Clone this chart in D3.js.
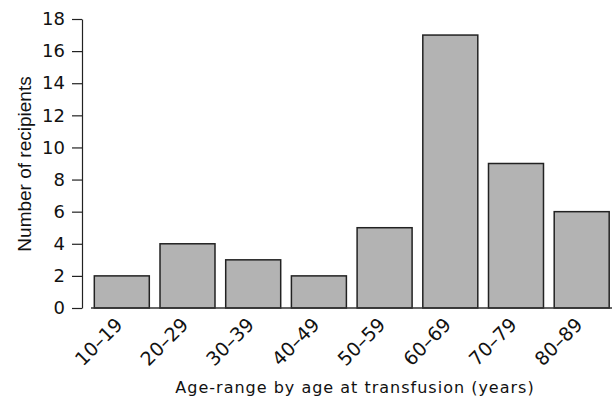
<!DOCTYPE html>
<html>
<head>
<meta charset="utf-8">
<script src="https://cdn.jsdelivr.net/npm/d3@7"></script>
<style>
  html, body { margin: 0; padding: 0; background: #fff; }
  svg { display: block; }
</style>
</head>
<body>
<svg id="chart" width="612" height="400"></svg>
<script>
const categories = ["10–19", "20–29", "30–39", "40–49", "50–59", "60–69", "70–79", "80–89"];
const recipients = [2, 4, 3, 2, 5, 17, 9, 6];
const yTicks = [0, 2, 4, 6, 8, 10, 12, 14, 16, 18];
const xTitle = "Age-range by age at transfusion (years)";
const yTitle = "Number of recipients";

const svg = d3.select("#chart");
const axisColor = "#222";

const x = d3.scaleBand()
  .domain(categories)
  .range([83.6, 619.9])
  .paddingInner(0.163)
  .paddingOuter(0.163);

const y = d3.scaleLinear().domain([0, 18]).range([308, 19]);

// bars
svg.append("g").selectAll("rect")
  .data(recipients)
  .join("rect")
  .attr("x", (d, i) => x(categories[i]))
  .attr("y", d => y(d))
  .attr("width", x.bandwidth())
  .attr("height", d => y(0) - y(d))
  .attr("fill", "#b3b3b3")
  .attr("stroke", axisColor)
  .attr("stroke-width", 1.5);

// x baseline
svg.append("line")
  .attr("x1", 91).attr("x2", 612)
  .attr("y1", y(0)).attr("y2", y(0))
  .attr("stroke", "#333").attr("stroke-width", 1.5);

// y axis
const yAxis = d3.axisLeft(y).tickValues(yTicks).tickSize(10).tickPadding(7).tickSizeOuter(0);
const gy = svg.append("g").attr("transform", "translate(82,0)").call(yAxis);
gy.select(".domain").attr("stroke", axisColor).attr("stroke-width", 1.2);
gy.selectAll(".tick line").attr("stroke", axisColor).attr("stroke-width", 1.2);
gy.selectAll(".tick text")
  .attr("font-family", "'DejaVu Sans', sans-serif")
  .attr("font-size", 18)
  .attr("fill", "#111");

// x tick labels
const xAxis = d3.axisBottom(x).tickSize(0).tickPadding(0);
const gx = svg.append("g").attr("transform", "translate(0," + y(0) + ")").call(xAxis);
gx.select(".domain").remove();
gx.selectAll(".tick text")
  .attr("font-family", "'DejaVu Sans', sans-serif")
  .attr("font-size", 19)
  .attr("fill", "#111")
  .attr("text-anchor", "end")
  .attr("dy", 0)
  .attr("y", 0)
  .attr("transform", "translate(2,18) rotate(-45)");

// x title
svg.append("text")
  .attr("x", 355).attr("y", 393)
  .attr("text-anchor", "middle")
  .attr("font-family", "'DejaVu Sans', sans-serif")
  .attr("font-size", 16)
  .attr("letter-spacing", 1)
  .attr("fill", "#111")
  .text(xTitle);

// y title
svg.append("text")
  .attr("transform", "translate(31,164) rotate(-90)")
  .attr("text-anchor", "middle")
  .attr("font-family", "'Liberation Sans', Arial, sans-serif")
  .attr("font-size", 19)
  .attr("fill", "#111")
  .text(yTitle);
</script>
</body>
</html>
